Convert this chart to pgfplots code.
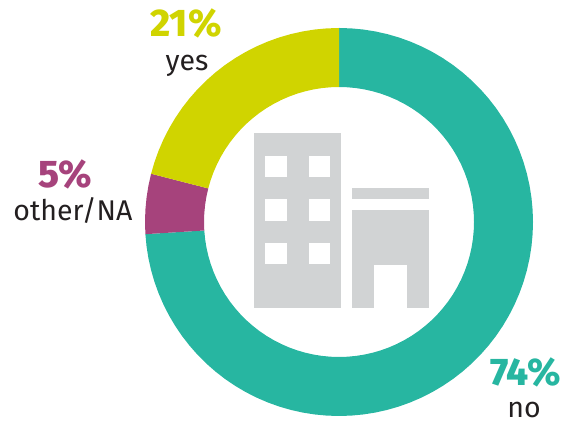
\documentclass[border=0pt]{standalone}
\usepackage{pgfplots}
\pgfplotsset{compat=1.18}
\usepackage{fontspec}
\setmainfont[BoldFont={Fira Sans ExtraBold}]{Fira Sans}
\definecolor{teal}{HTML}{27B6A1}
\definecolor{lime}{HTML}{D0D400}
\definecolor{plum}{HTML}{A6437C}
\definecolor{icon}{HTML}{D1D3D4}
\definecolor{ink}{HTML}{231F20}
% Ring sectors: cumulative percent clockwise from the top, and radius
\newcommand{\ringplot}[2]{\addplot[data cs=polar, fill=#1, draw=none, forget plot]
  table[row sep=\\, x expr={90-3.6*\thisrow{pct}}, y=r] {#2} -- cycle;}
\tikzset{pct/.style={font=\fontsize{38.5}{38.5}\selectfont\bfseries, anchor=base, inner sep=0pt},
  lab/.style={font=\fontsize{28.5}{28.5}\selectfont, text=ink, anchor=base, inner sep=0pt}}
\begin{document}
\begin{tikzpicture}
\path[use as bounding box] (0,0) rectangle (570pt,422pt);
\begin{axis}[at={(0,0)}, anchor=south west, scale only axis, width=570pt, height=422pt,
  xmin=-339, xmax=231, ymin=-200, ymax=222, hide axis, clip=false]
\ringplot{teal}{pct r\\
0 194\\1 194\\2 194\\3 194\\4 194\\5 194\\6 194\\7 194\\8 194\\9 194\\
10 194\\11 194\\12 194\\13 194\\14 194\\15 194\\16 194\\17 194\\18 194\\19 194\\
20 194\\21 194\\22 194\\23 194\\24 194\\25 194\\26 194\\27 194\\28 194\\29 194\\
30 194\\31 194\\32 194\\33 194\\34 194\\35 194\\36 194\\37 194\\38 194\\39 194\\
40 194\\41 194\\42 194\\43 194\\44 194\\45 194\\46 194\\47 194\\48 194\\49 194\\
50 194\\51 194\\52 194\\53 194\\54 194\\55 194\\56 194\\57 194\\58 194\\59 194\\
60 194\\61 194\\62 194\\63 194\\64 194\\65 194\\66 194\\67 194\\68 194\\69 194\\
70 194\\71 194\\72 194\\73 194\\74 194\\
74 135\\73 135\\72 135\\71 135\\70 135\\
69 135\\68 135\\67 135\\66 135\\65 135\\64 135\\63 135\\62 135\\61 135\\60 135\\
59 135\\58 135\\57 135\\56 135\\55 135\\54 135\\53 135\\52 135\\51 135\\50 135\\
49 135\\48 135\\47 135\\46 135\\45 135\\44 135\\43 135\\42 135\\41 135\\40 135\\
39 135\\38 135\\37 135\\36 135\\35 135\\34 135\\33 135\\32 135\\31 135\\30 135\\
29 135\\28 135\\27 135\\26 135\\25 135\\24 135\\23 135\\22 135\\21 135\\20 135\\
19 135\\18 135\\17 135\\16 135\\15 135\\14 135\\13 135\\12 135\\11 135\\10 135\\
9 135\\8 135\\7 135\\6 135\\5 135\\4 135\\3 135\\2 135\\1 135\\0 135\\
}
\ringplot{plum}{pct r\\
74 194\\75 194\\76 194\\77 194\\78 194\\79 194\\
79 135\\78 135\\77 135\\76 135\\75 135\\74 135\\
}
\ringplot{lime}{pct r\\
79 194\\80 194\\81 194\\82 194\\83 194\\84 194\\85 194\\86 194\\87 194\\88 194\\89 194\\
90 194\\91 194\\92 194\\93 194\\94 194\\95 194\\96 194\\97 194\\98 194\\99 194\\100 194\\
100 135\\99 135\\98 135\\97 135\\96 135\\95 135\\94 135\\93 135\\92 135\\91 135\\90 135\\
89 135\\88 135\\87 135\\86 135\\85 135\\84 135\\83 135\\82 135\\81 135\\80 135\\79 135\\
}
\end{axis}
% Overlay in page pixels for the building icon and the labels
\begin{axis}[at={(0,0)}, anchor=south west, scale only axis, width=570pt, height=422pt,
  xmin=0, xmax=570, ymin=0, ymax=422, y dir=reverse, hide axis, clip=false]
\fill[icon] (axis cs:254,133.3) rectangle (axis cs:341.3,308.3);
\fill[icon] (axis cs:352,188) rectangle (axis cs:428.7,199.3);
\fill[icon] (axis cs:352,210) rectangle (axis cs:428.7,308.3);
\fill[white] (axis cs:374,264.7) rectangle (axis cs:406.7,308.5);
% Window grid of the tower
\fill[white] (axis cs:265,155.7) rectangle (axis cs:286.7,177.3);
\fill[white] (axis cs:308.7,155.7) rectangle (axis cs:330.3,177.3);
\fill[white] (axis cs:265,199) rectangle (axis cs:286.7,221);
\fill[white] (axis cs:308.7,199) rectangle (axis cs:330.3,221);
\fill[white] (axis cs:265,243) rectangle (axis cs:286.7,264.3);
\fill[white] (axis cs:308.7,243) rectangle (axis cs:330.3,264.3);
\node[pct, text=teal] at (axis cs:525.5,385) {74\%};
\node[lab] at (axis cs:524,417) {no};
\node[pct, text=plum] at (axis cs:65.5,188) {5\%};
\node[lab] at (axis cs:73,220.5) {other/NA};
\node[pct, text=lime] at (axis cs:186,37) {21\%};
\node[lab] at (axis cs:187,70.5) {yes};
\end{axis}
\end{tikzpicture}
\end{document}
